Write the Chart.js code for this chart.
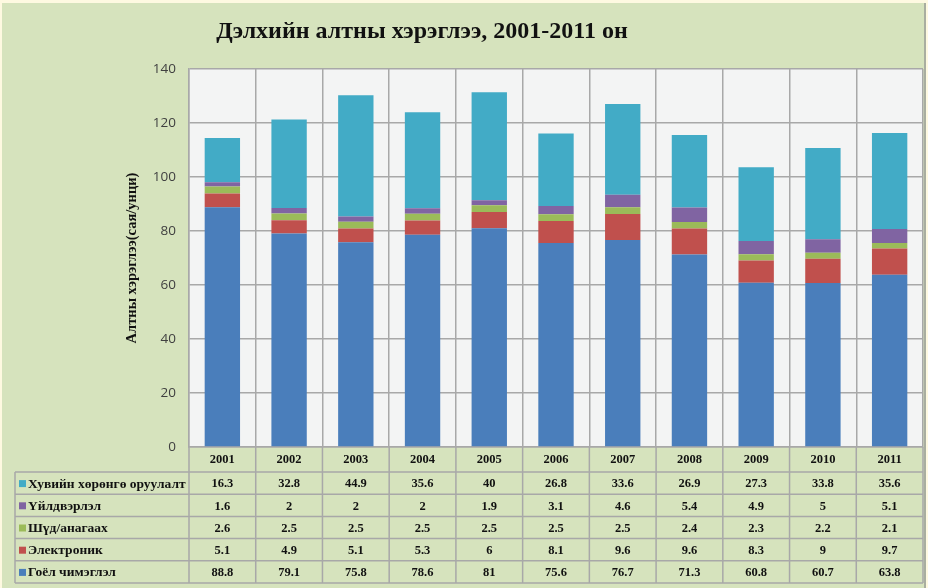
<!DOCTYPE html>
<html>
<head>
<meta charset="utf-8">
<script src="https://cdn.jsdelivr.net/npm/chart.js@4.4.0/dist/chart.umd.min.js"></script>
<style>
  body { margin: 0; background: #fef9e1; }
  canvas { display: block; }
</style>
</head>
<body>
<canvas id="gold-chart" width="928" height="588"></canvas>
<script>
// data
const years = ['2001', '2002', '2003', '2004', '2005', '2006', '2007', '2008', '2009', '2010', '2011'];
const jewellery = [88.8, 79.1, 75.8, 78.6, 81, 75.6, 76.7, 71.3, 60.8, 60.7, 63.8];
const electronics = [5.1, 4.9, 5.1, 5.3, 6, 8.1, 9.6, 9.6, 8.3, 9, 9.7];
const dental = [2.6, 2.5, 2.5, 2.5, 2.5, 2.5, 2.5, 2.4, 2.3, 2.2, 2.1];
const industrial = [1.6, 2, 2, 2, 1.9, 3.1, 4.6, 5.4, 4.9, 5, 5.1];
const investment = [16.3, 32.8, 44.9, 35.6, 40, 26.8, 33.6, 26.9, 27.3, 33.8, 35.6];
const yTicks = [0, 20, 40, 60, 80, 100, 120, 140];

const titleText = 'Дэлхийн алтны хэрэглээ, 2001-2011 он';
const yTitleText = 'Алтны хэрэглээ(сая/унци)';

function getColor(name) {
    if (name === 'Гоёл чимэглэл') return '#4a7ebb'
    if (name === 'Электроник') return '#c0504d'
    if (name === 'Шүд/анагаах') return '#9bbb59'
    if (name === 'Үйлдвэрлэл') return '#8064a2'
    if (name === 'Хувийн хөрөнгө оруулалт') return '#42abc6'
}

const series = [
    { label: 'Гоёл чимэглэл', data: jewellery },
    { label: 'Электроник', data: electronics },
    { label: 'Шүд/анагаах', data: dental },
    { label: 'Үйлдвэрлэл', data: industrial },
    { label: 'Хувийн хөрөнгө оруулалт', data: investment },
];

const gridColor = '#a8a8a8';
const serif = '"Liberation Serif", "DejaVu Serif", serif';

// background panel, title and the data table under the plot
const panelPlugin = {
    id: 'panel',
    beforeDraw(chart) {
        const ctx = chart.ctx;
        const area = chart.chartArea;
        ctx.save();
        ctx.fillStyle = '#fef9e1';
        ctx.fillRect(0, 0, chart.width, chart.height);
        ctx.fillStyle = '#d6e3bd';
        ctx.fillRect(2, 3, 922, 585);
        ctx.fillStyle = '#a9aea0';
        ctx.fillRect(924, 3, 2, 585);
        ctx.fillStyle = '#f3f4f4';
        ctx.fillRect(area.left, area.top, area.right - area.left, area.bottom - area.top);
        ctx.restore();
    },
    afterDraw(chart) {
        const ctx = chart.ctx;
        const area = chart.chartArea;
        const x = chart.scales.x;
        ctx.save();

        // title
        ctx.fillStyle = '#111';
        ctx.font = 'bold 24px ' + serif;
        ctx.textAlign = 'center';
        ctx.textBaseline = 'middle';
        ctx.fillText(titleText, 422, 32);

        // y axis title
        ctx.save();
        ctx.translate(132, (area.top + area.bottom) / 2);
        ctx.rotate(-Math.PI / 2);
        ctx.font = 'bold 14.5px ' + serif;
        ctx.fillText(yTitleText, 0, 0);
        ctx.restore();

        // table
        const headerBottom = area.bottom + 25;
        const rowH = 22.2;
        const rows = series.slice().reverse();
        const tableBottom = headerBottom + rowH * rows.length;
        const tableLeft = 15;
        const colW = (area.right - area.left) / years.length;

        ctx.strokeStyle = gridColor;
        ctx.lineWidth = 1.5;
        ctx.beginPath();
        for (let i = 0; i <= years.length; i++) {
            const cx = area.left + i * colW;
            ctx.moveTo(cx, area.bottom);
            ctx.lineTo(cx, tableBottom);
        }
        ctx.moveTo(tableLeft, headerBottom);
        ctx.lineTo(tableLeft, tableBottom);
        for (let r = 0; r <= rows.length; r++) {
            const ry = headerBottom + r * rowH;
            ctx.moveTo(tableLeft, ry);
            ctx.lineTo(area.right, ry);
        }
        ctx.stroke();

        ctx.fillStyle = '#111';
        ctx.font = 'bold 12.5px ' + serif;
        ctx.textAlign = 'center';
        years.forEach((year, i) => {
            ctx.fillText(year, x.getPixelForValue(i), area.bottom + 13);
        });

        rows.forEach((s, r) => {
            const cy = headerBottom + r * rowH + rowH / 2 + 1;
            ctx.fillStyle = getColor(s.label);
            ctx.fillRect(tableLeft + 4, cy - 4, 7, 7);
            ctx.fillStyle = '#111';
            ctx.textAlign = 'left';
            ctx.font = 'bold 13.5px ' + serif;
            ctx.fillText(s.label, tableLeft + 13, cy);
            ctx.textAlign = 'center';
            ctx.font = 'bold 12.5px ' + serif;
            s.data.forEach((v, i) => {
                ctx.fillText(String(v), x.getPixelForValue(i), cy);
            });
        });
        ctx.restore();
    }
};

new Chart(document.getElementById('gold-chart').getContext('2d'), {
    type: 'bar',
    data: {
        labels: years,
        datasets: series.map(s => ({
            label: s.label,
            data: s.data,
            backgroundColor: getColor(s.label),
            borderWidth: 0,
            categoryPercentage: 1,
            barPercentage: 0.53,
        }))
    },
    options: {
        responsive: false,
        animation: false,
        layout: { padding: { top: 69, right: 5, left: 0, bottom: 0 } },
        plugins: {
            legend: { display: false },
            tooltip: { enabled: false },
        },
        scales: {
            x: {
                stacked: true,
                ticks: { display: false },
                grid: { color: gridColor, lineWidth: 1.5, drawTicks: false },
                border: { color: gridColor, width: 1.5 },
                afterFit(scale) { scale.height = 141; },
            },
            y: {
                stacked: true,
                min: 0,
                max: 140,
                afterBuildTicks(scale) { scale.ticks = yTicks.map(v => ({ value: v })); },
                ticks: {
                    padding: 13,
                    color: '#404040',
                    font: { family: '"Open Sans", "DejaVu Sans", sans-serif', size: 13.5 },
                },
                grid: { color: gridColor, lineWidth: 1.5, drawTicks: false },
                border: { color: gridColor, width: 1.5 },
                afterFit(scale) { scale.width = 189; },
            }
        }
    },
    plugins: [panelPlugin]
});
</script>
</body>
</html>
